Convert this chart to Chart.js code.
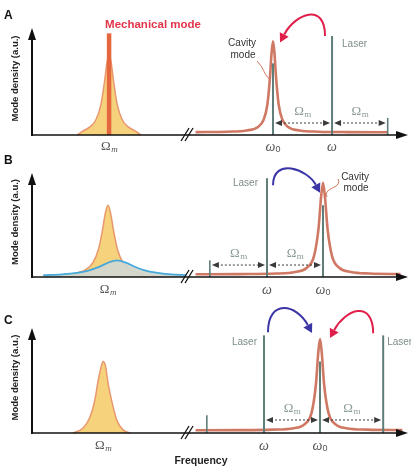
<!DOCTYPE html>
<html>
<head>
<meta charset="utf-8">
<script src="https://cdn.jsdelivr.net/npm/chart.js@4.4.1/dist/chart.umd.min.js"></script>
<style>
  html, body { margin: 0; padding: 0; background: #fff; }
  #wrap { position: relative; width: 411px; height: 467px; overflow: hidden; }
  #wrap canvas { position: absolute; left: 0; }
</style>
</head>
<body>
<div id="wrap">
  <canvas id="panelA" width="411" height="165" style="top:0"></canvas>
  <canvas id="panelB" width="411" height="165" style="top:145px"></canvas>
  <canvas id="panelC" width="411" height="167" style="top:300px"></canvas>
</div>
<script>
// frequency in arbitrary units (0-100), mode density 0-1
var breakAt = 41.5;

// A: mechanical mode + cavity, laser blue of the cavity
var mechA_x = [12, 13.6, 15.5, 17, 18.3, 19.3, 19.9, 20.5, 21.1, 21.7, 22.7, 24, 25.5, 27.4, 29];
var mechA_y = [0, 0.038, 0.078, 0.143, 0.28, 0.5, 0.667, 0.75, 0.667, 0.5, 0.28, 0.143, 0.078, 0.038, 0];
var mechLineA = 20.5, mechLineTopA = 0.95;
var cavA_x = [43.5, 52, 57, 60, 61.6, 62.6, 63.3, 63.7, 64.1, 64.5, 64.9, 65.6, 66.6, 68.2, 71.2, 76.2, 84, 94.6];
var cavA_y = [0.027, 0.031, 0.042, 0.073, 0.142, 0.285, 0.543, 0.758, 0.875, 0.758, 0.543, 0.285, 0.142, 0.073, 0.042, 0.031, 0.027, 0.026];
var omega0A = 64.1, omega0TopA = 0.67;
var laserA = 79.8, laserTopA = 0.925;
var sideA = 94.6, sideTopA = 0.16;

// B: laser red-detuned, damped mechanical mode
var mechB_x = [10.2, 12.2, 14.2, 16.2, 17.7, 18.8, 19.5, 20.2, 20.9, 21.6, 22.7, 24.2, 26.2, 28.2, 30.2];
var mechB_y = [0, 0.041, 0.069, 0.138, 0.269, 0.463, 0.615, 0.69, 0.615, 0.463, 0.269, 0.138, 0.069, 0.041, 0];
var dampB_x = [3, 8, 12, 15, 18, 20.5, 22.6, 25, 27.5, 30, 33, 37, 41];
var dampB_y = [0.018, 0.026, 0.04, 0.062, 0.1, 0.142, 0.16, 0.138, 0.096, 0.064, 0.042, 0.026, 0.019];
var cavB_x = [43.5, 55, 65, 70, 73, 75, 76.2, 76.9, 77.4, 77.9, 78.6, 79.8, 81.8, 84.8, 89.8, 98];
var cavB_y = [0.026, 0.028, 0.033, 0.048, 0.086, 0.201, 0.465, 0.775, 0.905, 0.775, 0.465, 0.201, 0.086, 0.048, 0.033, 0.028];
var omega0B = 77.4, omega0TopB = 0.69;
var laserB = 62.5, laserTopB = 0.95;
var sideB = 47.3, sideTopB = 0.16;

// C: lasers on both sides
var mechC_x = [10.9, 13.6, 15.4, 16.7, 17.6, 18.4, 18.9, 19.6, 20.2, 21.3, 22.6, 24.2, 26.1];
var mechC_y = [0, 0.048, 0.15, 0.31, 0.5, 0.63, 0.68, 0.63, 0.48, 0.29, 0.12, 0.03, 0];
var cavC_x = [43.5, 55, 64, 69.6, 72.6, 74.4, 75.5, 76.15, 76.6, 77.05, 77.7, 78.8, 80.6, 83.6, 89.2, 98.5];
var cavC_y = [0.026, 0.027, 0.032, 0.046, 0.086, 0.199, 0.46, 0.77, 0.895, 0.77, 0.46, 0.199, 0.086, 0.046, 0.032, 0.027];
var omega0C = 76.6, omega0TopC = 0.68;
var lasersC = [61.7, 93.4], laserTopC = 0.93;
var sideC = 46.5, sideTopC = 0.17;

var YELLOW = '#f7d27c', YELLOW_EDGE = '#e8976e', CAVITY = 'rgba(203,108,86,0.92)';
var STICK = '#5f7d79', RED = '#e0204a', BLUE = '#3b35a6';

function pts(xs, ys) {
    return xs.map(function (x, i) { return { x: x, y: ys[i] }; });
}
function curve(xs, ys, color, width, fillColor) {
    return {
        data: pts(xs, ys), borderColor: color, borderWidth: width,
        backgroundColor: fillColor || 'transparent', fill: fillColor ? 'origin' : false,
        clip: false, cubicInterpolationMode: 'monotone'
    };
}
function stick(x, top, color, width) {
    return {
        data: [{ x: x, y: 0 }, { x: x, y: top }], borderColor: color, borderWidth: width,
        fill: false, clip: false, tension: 0, cubicInterpolationMode: 'default'
    };
}

function tri(ctx, x1, y1, x2, y2, x3, y3) {
    ctx.beginPath(); ctx.moveTo(x1, y1); ctx.lineTo(x2, y2); ctx.lineTo(x3, y3); ctx.closePath(); ctx.fill();
}

// Axes with arrows and the break marks
function drawAxes(chart, letter, letterY) {
    var ctx = chart.ctx, a = chart.chartArea;
    var bx = chart.scales.x.getPixelForValue(breakAt);
    ctx.save();
    ctx.strokeStyle = '#111'; ctx.fillStyle = '#111';
    ctx.lineWidth = 2;
    ctx.beginPath(); ctx.moveTo(a.left, a.bottom + 1); ctx.lineTo(a.left, a.top + 8); ctx.stroke();
    tri(ctx, a.left, a.top, a.left - 4, a.top + 12, a.left + 4, a.top + 12);
    ctx.lineWidth = 1.6;
    ctx.beginPath(); ctx.moveTo(a.left, a.bottom); ctx.lineTo(a.right - 8, a.bottom); ctx.stroke();
    tri(ctx, a.right, a.bottom, a.right - 12, a.bottom - 4, a.right - 12, a.bottom + 4);
    ctx.lineWidth = 1.3;
    ctx.beginPath();
    ctx.moveTo(bx - 7, a.bottom + 6); ctx.lineTo(bx + 1, a.bottom - 7);
    ctx.moveTo(bx - 3, a.bottom + 6); ctx.lineTo(bx + 5, a.bottom - 7);
    ctx.stroke();
    ctx.font = 'bold 12px "Liberation Sans"';
    ctx.textBaseline = 'middle'; ctx.textAlign = 'left';
    ctx.fillText(letter, 4, letterY);
    // y-axis title
    ctx.translate(15, (a.top + a.bottom) / 2 - 3);
    ctx.rotate(-Math.PI / 2);
    ctx.textAlign = 'center';
    ctx.font = 'bold 9.5px "Liberation Sans"';
    ctx.fillStyle = '#222';
    ctx.fillText('Mode density (a.u.)', 0, 0);
    ctx.restore();
}

function omegaM(ctx, cx, cy, color, italic) {
    ctx.save();
    ctx.fillStyle = color; ctx.textAlign = 'left'; ctx.textBaseline = 'middle';
    var big = '13px "Liberation Serif"', small = (italic ? 'italic ' : '') + '9px "Liberation Serif"';
    ctx.font = big; var w1 = ctx.measureText('\u03A9').width;
    ctx.font = small; var w2 = ctx.measureText('m').width;
    var x0 = cx - (w1 + w2) / 2;
    ctx.font = big; ctx.fillText('\u03A9', x0, cy);
    ctx.font = small; ctx.fillText('m', x0 + w1 + 0.5, cy + 3);
    ctx.restore();
}

function omegaLabel(ctx, cx, cy, sub) {
    ctx.save();
    ctx.fillStyle = '#555'; ctx.textAlign = 'left'; ctx.textBaseline = 'middle';
    ctx.font = 'italic 14px "Liberation Serif"';
    var w1 = ctx.measureText('\u03C9').width;
    ctx.font = '9px "Liberation Sans"';
    var w2 = sub ? ctx.measureText(sub).width : 0;
    var x0 = cx - (w1 + w2) / 2;
    ctx.font = 'italic 14px "Liberation Serif"';
    ctx.fillText('\u03C9', x0, cy);
    if (sub) { ctx.font = '9px "Liberation Sans"'; ctx.fillText(sub, x0 + w1, cy + 3); }
    ctx.restore();
}

function dimArrow(ctx, x1, x2, y) {
    ctx.save();
    ctx.strokeStyle = '#3a3a3a'; ctx.fillStyle = '#3a3a3a';
    ctx.lineWidth = 1; ctx.setLineDash([2, 2]);
    ctx.beginPath(); ctx.moveTo(x1 + 7, y); ctx.lineTo(x2 - 7, y); ctx.stroke();
    ctx.setLineDash([]);
    tri(ctx, x1 + 2, y, x1 + 9, y - 3, x1 + 9, y + 3);
    tri(ctx, x2 - 2, y, x2 - 9, y - 3, x2 - 9, y + 3);
    ctx.restore();
}

function bentArrow(ctx, sx, sy, ex, ey, h, color) {
    var sgn = sx > ex ? 1 : -1;
    var c1x = sx, c1y = sy - h, c2x = ex + sgn * h * 0.45, c2y = ey - h * 0.85;
    var dx = ex - c2x, dy = ey - c2y, len = Math.sqrt(dx * dx + dy * dy);
    dx /= len; dy /= len;
    var bx = ex - dx * 9, by = ey - dy * 9;
    ctx.save();
    ctx.strokeStyle = color; ctx.fillStyle = color; ctx.lineWidth = 2;
    ctx.beginPath(); ctx.moveTo(sx, sy); ctx.bezierCurveTo(c1x, c1y, c2x, c2y, bx, by); ctx.stroke();
    tri(ctx, ex, ey, bx - dy * 5, by + dx * 5, bx + dy * 5, by - dx * 5);
    ctx.restore();
}

function text(ctx, s, x, y, font, color, align) {
    ctx.save();
    ctx.font = font; ctx.fillStyle = color;
    ctx.textAlign = align || 'center'; ctx.textBaseline = 'middle';
    ctx.fillText(s, x, y);
    ctx.restore();
}

function leader(ctx, x1, y1, x2, y2) {
    ctx.save();
    ctx.strokeStyle = '#d07a62'; ctx.lineWidth = 1;
    var mx = (x1 + x2) / 2, my = (y1 + y2) / 2;
    ctx.beginPath(); ctx.moveTo(x1, y1);
    ctx.quadraticCurveTo(x1 + (x2 - x1) * 0.1 + 4, y1 + (y2 - y1) * 0.3, mx, my);
    ctx.quadraticCurveTo(x2 - (x2 - x1) * 0.1 - 4, y2 - (y2 - y1) * 0.3, x2, y2);
    ctx.stroke();
    ctx.restore();
}

function options(pad) {
    return {
        responsive: false, animation: false, events: [],
        layout: { padding: pad },
        plugins: { legend: { display: false }, tooltip: { enabled: false } },
        elements: { point: { radius: 0 } },
        scales: {
            x: { type: 'linear', min: 0, max: 100, display: false },
            y: { type: 'linear', min: 0, max: 1, display: false }
        }
    };
}

// Panel A
new Chart(document.getElementById('panelA'), {
    type: 'line',
    data: {
        datasets: [
            stick(omega0A, omega0TopA, STICK, 2),
            stick(laserA, laserTopA, STICK, 2),
            stick(sideA, sideTopA, STICK, 1.6),
            curve(cavA_x, cavA_y, CAVITY, 2.6),
            stick(mechLineA, mechLineTopA, '#e4673f', 4.5),
            curve(mechA_x, mechA_y, YELLOW_EDGE, 1.5, YELLOW)
        ]
    },
    options: options({ top: 28, bottom: 30, left: 32, right: 3 }),
    plugins: [{
        id: 'decoA',
        afterDraw: function (chart) {
            var ctx = chart.ctx, a = chart.chartArea;
            var X = function (v) { return chart.scales.x.getPixelForValue(v); };
            var Y = function (v) { return chart.scales.y.getPixelForValue(v); };
            drawAxes(chart, 'A', 16);
            text(ctx, 'Mechanical mode', X(mechLineA) - 4, 25, 'bold 11.5px "Liberation Sans"', '#e2354a', 'left');
            omegaM(ctx, X(mechLineA), a.bottom + 12, '#555', true);
            omegaLabel(ctx, X(omega0A), a.bottom + 12, '0');
            omegaLabel(ctx, X(laserA), a.bottom + 12);
            var dy = Y(0.112);
            dimArrow(ctx, X(omega0A), X(laserA), dy);
            dimArrow(ctx, X(laserA), X(sideA), dy);
            omegaM(ctx, (X(omega0A) + X(laserA)) / 2, dy - 11, '#8b9b98', false);
            omegaM(ctx, (X(laserA) + X(sideA)) / 2, dy - 11, '#8b9b98', false);
            text(ctx, 'Laser', X(laserA) + 10, Y(laserTopA) + 8, '10px "Liberation Sans"', '#7d8c8a', 'left');
            text(ctx, 'Cavity', X(omega0A) - 31, 43, '10px "Liberation Sans"', '#333');
            text(ctx, 'mode', X(omega0A) - 30, 55, '10px "Liberation Sans"', '#333');
            leader(ctx, X(omega0A) - 16, 61, X(omega0A) - 3, 80);
            bentArrow(ctx, X(laserA) - 7, Y(laserTopA), X(omega0A) + 7, Y(0.865), 34, RED);
        }
    }]
});

// Panel B
new Chart(document.getElementById('panelB'), {
    type: 'line',
    data: {
        datasets: [
            stick(omega0B, omega0TopB, STICK, 2),
            stick(laserB, laserTopB, STICK, 2),
            stick(sideB, sideTopB, STICK, 1.6),
            curve(cavB_x, cavB_y, CAVITY, 2.6),
            curve(dampB_x, dampB_y, '#45a9dc', 1.8, 'rgba(210,214,204,0.96)'),
            curve(mechB_x, mechB_y, YELLOW_EDGE, 1.5, YELLOW)
        ]
    },
    options: options({ top: 28, bottom: 33, left: 32, right: 3 }),
    plugins: [{
        id: 'decoB',
        afterDraw: function (chart) {
            var ctx = chart.ctx, a = chart.chartArea;
            var X = function (v) { return chart.scales.x.getPixelForValue(v); };
            var Y = function (v) { return chart.scales.y.getPixelForValue(v); };
            drawAxes(chart, 'B', 16);
            omegaM(ctx, X(20.2), a.bottom + 13, '#555', true);
            omegaLabel(ctx, X(omega0B), a.bottom + 13, '0');
            omegaLabel(ctx, X(laserB), a.bottom + 13);
            var dy = Y(0.115);
            dimArrow(ctx, X(sideB), X(laserB), dy);
            dimArrow(ctx, X(laserB), X(omega0B), dy);
            omegaM(ctx, (X(sideB) + X(laserB)) / 2, dy - 11, '#8b9b98', false);
            omegaM(ctx, (X(laserB) + X(omega0B)) / 2, dy - 11, '#8b9b98', false);
            text(ctx, 'Laser', X(laserB) - 9, Y(laserTopB) + 5, '10px "Liberation Sans"', '#7d8c8a', 'right');
            text(ctx, 'Cavity', X(omega0B) + 32, a.top + 4, '10px "Liberation Sans"', '#333');
            text(ctx, 'mode', X(omega0B) + 33, a.top + 15, '10px "Liberation Sans"', '#333');
            leader(ctx, X(omega0B) + 15, a.top + 6, X(omega0B) + 4, a.top + 24);
            bentArrow(ctx, X(laserB) + 6, Y(laserTopB) + 7, X(omega0B) - 3, Y(0.81), 28, BLUE);
        }
    }]
});

// Panel C
new Chart(document.getElementById('panelC'), {
    type: 'line',
    data: {
        datasets: [
            stick(omega0C, omega0TopC, STICK, 2),
            stick(lasersC[0], laserTopC, STICK, 2),
            stick(lasersC[1], laserTopC, STICK, 2),
            stick(sideC, sideTopC, STICK, 1.6),
            curve(cavC_x, cavC_y, CAVITY, 2.6),
            curve(mechC_x, mechC_y, YELLOW_EDGE, 1.5, YELLOW)
        ]
    },
    options: options({ top: 28, bottom: 34, left: 32, right: 3 }),
    plugins: [{
        id: 'decoC',
        afterDraw: function (chart) {
            var ctx = chart.ctx, a = chart.chartArea;
            var X = function (v) { return chart.scales.x.getPixelForValue(v); };
            var Y = function (v) { return chart.scales.y.getPixelForValue(v); };
            drawAxes(chart, 'C', 21);
            omegaM(ctx, X(18.9), a.bottom + 13, '#555', true);
            omegaLabel(ctx, X(omega0C), a.bottom + 13, '0');
            omegaLabel(ctx, X(lasersC[0]), a.bottom + 13);
            var dy = Y(0.124);
            dimArrow(ctx, X(lasersC[0]), X(omega0C), dy);
            dimArrow(ctx, X(omega0C), X(lasersC[1]), dy);
            omegaM(ctx, (X(lasersC[0]) + X(omega0C)) / 2, dy - 11, '#8b9b98', false);
            omegaM(ctx, (X(omega0C) + X(lasersC[1])) / 2, dy - 11, '#8b9b98', false);
            text(ctx, 'Laser', X(lasersC[0]) - 7, Y(laserTopC) + 7, '10px "Liberation Sans"', '#7d8c8a', 'right');
            text(ctx, 'Laser', X(lasersC[1]) + 4, Y(laserTopC) + 7, '10px "Liberation Sans"', '#7d8c8a', 'left');
            text(ctx, 'Frequency', 201, 161, 'bold 10.5px "Liberation Sans"', '#222');
            bentArrow(ctx, X(lasersC[0]) + 4, Y(laserTopC) - 3, X(omega0C) - 8, 33, 34, BLUE);
            bentArrow(ctx, X(lasersC[1]) - 10, Y(laserTopC) - 2, X(omega0C) + 10, 38, 34, RED);
        }
    }]
});
</script>
</body>
</html>
